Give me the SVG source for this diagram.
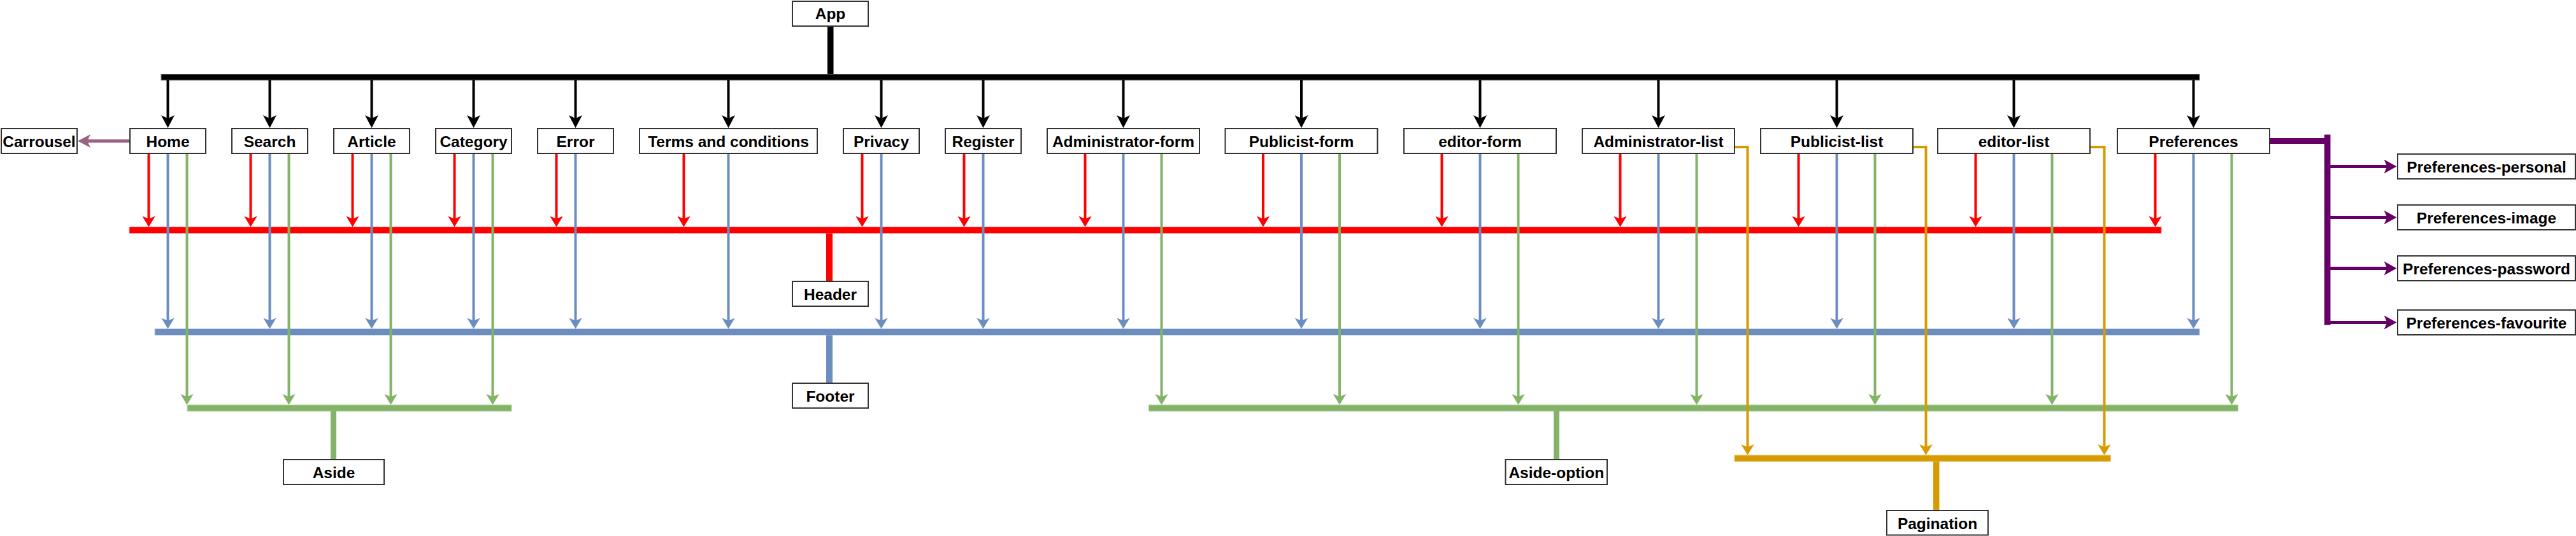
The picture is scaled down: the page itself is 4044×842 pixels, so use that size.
<svg xmlns="http://www.w3.org/2000/svg" width="4044" height="842" viewBox="0 0 4044 842">
<style>
  .box { fill: #ffffff; stroke: #333333; stroke-width: 2; }
  .lbl { font-family: "Liberation Sans", Arial, Helvetica, sans-serif; font-weight: bold; font-size: 24.5px; fill: #000000; text-anchor: middle; }
  .ln { fill: none; stroke-width: 4; }
  .k { stroke: #000000; }
  .r { stroke: #FF0000; }
  .b { stroke: #6C8EBF; }
  .g { stroke: #82B366; }
  .o { stroke: #D79B00; }
  .p { stroke: #660066; stroke-width: 5; }
  .m { stroke: #996185; stroke-width: 5; }
</style>
<defs>
  <marker id="aK" markerUnits="userSpaceOnUse" markerWidth="20" markerHeight="21" viewBox="0 0 20 21" refX="10" refY="10.5" orient="auto"><path d="M0,0 L20,10.5 L0,21 L5,10.5 Z" fill="#000000"/></marker>
  <marker id="aR" markerUnits="userSpaceOnUse" markerWidth="17" markerHeight="20.5" viewBox="0 0 17 20.5" refX="8" refY="10.25" orient="auto"><path d="M0,0 L17,10.25 L0,20.5 L4.25,10.25 Z" fill="#FF0000"/></marker>
  <marker id="aB" markerUnits="userSpaceOnUse" markerWidth="17" markerHeight="20.5" viewBox="0 0 17 20.5" refX="8" refY="10.25" orient="auto"><path d="M0,0 L17,10.25 L0,20.5 L4.25,10.25 Z" fill="#6C8EBF"/></marker>
  <marker id="aG" markerUnits="userSpaceOnUse" markerWidth="17" markerHeight="20.5" viewBox="0 0 17 20.5" refX="8" refY="10.25" orient="auto"><path d="M0,0 L17,10.25 L0,20.5 L4.25,10.25 Z" fill="#82B366"/></marker>
  <marker id="aO" markerUnits="userSpaceOnUse" markerWidth="17" markerHeight="20.5" viewBox="0 0 17 20.5" refX="8" refY="10.25" orient="auto"><path d="M0,0 L17,10.25 L0,20.5 L4.25,10.25 Z" fill="#D79B00"/></marker>
  <marker id="aP" markerUnits="userSpaceOnUse" markerWidth="20" markerHeight="22" viewBox="0 0 20 22" refX="10" refY="11" orient="auto"><path d="M0,0 L20,11 L0,22 L5,11 Z" fill="#660066"/></marker>
  <marker id="aM" markerUnits="userSpaceOnUse" markerWidth="20" markerHeight="21" viewBox="0 0 20 21" refX="10" refY="10.5" orient="auto"><path d="M0,0 L20,10.5 L0,21 L5,10.5 Z" fill="#996185"/></marker>
</defs>
<rect x="0" y="0" width="4044" height="842" fill="#ffffff"/>

<g id="buses">
  <rect x="1299" y="42" width="9.5" height="75" fill="#000000"/>
  <rect x="253" y="116.5" width="3200" height="9.5" fill="#000000" stroke="#777777" stroke-width="1"/>
  <rect x="203" y="356.5" width="3190" height="10" fill="#FF0000" stroke="#FF8080" stroke-width="1"/>
  <rect x="1297" y="366.5" width="10" height="75" fill="#FF0000"/>
  <rect x="243" y="516.5" width="3210" height="10" fill="#6C8EBF" stroke="#B5C7E0" stroke-width="1"/>
  <rect x="1297" y="526.5" width="10" height="75" fill="#6C8EBF"/>
  <rect x="294" y="636" width="509" height="10" fill="#82B366" stroke="#B9D6A8" stroke-width="1"/>
  <rect x="519" y="646" width="9" height="75" fill="#82B366"/>
  <rect x="1803.5" y="636" width="1710" height="10" fill="#82B366" stroke="#B9D6A8" stroke-width="1"/>
  <rect x="2439" y="646" width="9" height="75" fill="#82B366"/>
  <rect x="2723" y="715" width="590.5" height="10" fill="#D79B00" stroke="#EBCB80" stroke-width="1"/>
  <rect x="3035" y="725" width="9.5" height="76" fill="#D79B00"/>
  <rect x="3564" y="217" width="90" height="9" fill="#660066"/>
  <rect x="3649" y="211.5" width="9.5" height="299" fill="#660066"/>
</g>

<g id="connectors">
  <path class="ln k" marker-end="url(#aK)" d="M263.5,126 V191"/>
  <path class="ln k" marker-end="url(#aK)" d="M423.5,126 V191"/>
  <path class="ln k" marker-end="url(#aK)" d="M583.5,126 V191"/>
  <path class="ln k" marker-end="url(#aK)" d="M743.5,126 V191"/>
  <path class="ln k" marker-end="url(#aK)" d="M903.5,126 V191"/>
  <path class="ln k" marker-end="url(#aK)" d="M1143.5,126 V191"/>
  <path class="ln k" marker-end="url(#aK)" d="M1383.5,126 V191"/>
  <path class="ln k" marker-end="url(#aK)" d="M1543.5,126 V191"/>
  <path class="ln k" marker-end="url(#aK)" d="M1763.5,126 V191"/>
  <path class="ln k" marker-end="url(#aK)" d="M2043,126 V191"/>
  <path class="ln k" marker-end="url(#aK)" d="M2323.5,126 V191"/>
  <path class="ln k" marker-end="url(#aK)" d="M2603.5,126 V191"/>
  <path class="ln k" marker-end="url(#aK)" d="M2883.5,126 V191"/>
  <path class="ln k" marker-end="url(#aK)" d="M3161.5,126 V191"/>
  <path class="ln k" marker-end="url(#aK)" d="M3443.5,126 V191"/>

  <path class="ln m" marker-end="url(#aM)" d="M203,221.5 H132"/>

  <path class="ln r" marker-end="url(#aR)" d="M233.5,242 V347.5"/>
  <path class="ln r" marker-end="url(#aR)" d="M393.5,242 V347.5"/>
  <path class="ln r" marker-end="url(#aR)" d="M553.5,242 V347.5"/>
  <path class="ln r" marker-end="url(#aR)" d="M713.5,242 V347.5"/>
  <path class="ln r" marker-end="url(#aR)" d="M873.5,242 V347.5"/>
  <path class="ln r" marker-end="url(#aR)" d="M1073.5,242 V347.5"/>
  <path class="ln r" marker-end="url(#aR)" d="M1353.5,242 V347.5"/>
  <path class="ln r" marker-end="url(#aR)" d="M1513.5,242 V347.5"/>
  <path class="ln r" marker-end="url(#aR)" d="M1703.5,242 V347.5"/>
  <path class="ln r" marker-end="url(#aR)" d="M1983,242 V347.5"/>
  <path class="ln r" marker-end="url(#aR)" d="M2263.5,242 V347.5"/>
  <path class="ln r" marker-end="url(#aR)" d="M2543.5,242 V347.5"/>
  <path class="ln r" marker-end="url(#aR)" d="M2823.5,242 V347.5"/>
  <path class="ln r" marker-end="url(#aR)" d="M3101.5,242 V347.5"/>
  <path class="ln r" marker-end="url(#aR)" d="M3383.5,242 V347.5"/>

  <path class="ln b" marker-end="url(#aB)" d="M263.5,242 V507.5"/>
  <path class="ln b" marker-end="url(#aB)" d="M423.5,242 V507.5"/>
  <path class="ln b" marker-end="url(#aB)" d="M583.5,242 V507.5"/>
  <path class="ln b" marker-end="url(#aB)" d="M743.5,242 V507.5"/>
  <path class="ln b" marker-end="url(#aB)" d="M903.5,242 V507.5"/>
  <path class="ln b" marker-end="url(#aB)" d="M1143.5,242 V507.5"/>
  <path class="ln b" marker-end="url(#aB)" d="M1383.5,242 V507.5"/>
  <path class="ln b" marker-end="url(#aB)" d="M1543.5,242 V507.5"/>
  <path class="ln b" marker-end="url(#aB)" d="M1763.5,242 V507.5"/>
  <path class="ln b" marker-end="url(#aB)" d="M2043,242 V507.5"/>
  <path class="ln b" marker-end="url(#aB)" d="M2323.5,242 V507.5"/>
  <path class="ln b" marker-end="url(#aB)" d="M2603.5,242 V507.5"/>
  <path class="ln b" marker-end="url(#aB)" d="M2883.5,242 V507.5"/>
  <path class="ln b" marker-end="url(#aB)" d="M3161.5,242 V507.5"/>
  <path class="ln b" marker-end="url(#aB)" d="M3443.5,242 V507.5"/>

  <path class="ln g" marker-end="url(#aG)" d="M293.5,242 V627"/>
  <path class="ln g" marker-end="url(#aG)" d="M453.5,242 V627"/>
  <path class="ln g" marker-end="url(#aG)" d="M613.5,242 V627"/>
  <path class="ln g" marker-end="url(#aG)" d="M773.5,242 V627"/>

  <path class="ln g" marker-end="url(#aG)" d="M1823.5,242 V627"/>
  <path class="ln g" marker-end="url(#aG)" d="M2103,242 V627"/>
  <path class="ln g" marker-end="url(#aG)" d="M2383.5,242 V627"/>
  <path class="ln g" marker-end="url(#aG)" d="M2663.5,242 V627"/>
  <path class="ln g" marker-end="url(#aG)" d="M2943.5,242 V627"/>
  <path class="ln g" marker-end="url(#aG)" d="M3221.5,242 V627"/>
  <path class="ln g" marker-end="url(#aG)" d="M3503.5,242 V627"/>

  <path class="ln o" marker-end="url(#aO)" d="M2724,231 H2743.5 V706"/>
  <path class="ln o" marker-end="url(#aO)" d="M3004,231 H3023.5 V706"/>
  <path class="ln o" marker-end="url(#aO)" d="M3282,231 H3303.5 V706"/>

  <path class="ln p" marker-end="url(#aP)" d="M3658,261.5 H3752.5"/>
  <path class="ln p" marker-end="url(#aP)" d="M3658,341.5 H3752.5"/>
  <path class="ln p" marker-end="url(#aP)" d="M3658,421.5 H3752.5"/>
  <path class="ln p" marker-end="url(#aP)" d="M3658,506.5 H3752.5"/>
</g>

<g id="node-app"><rect class="box" x="1244" y="2" width="119" height="39"/><text class="lbl" x="1303.5" y="30">App</text></g>
<g id="node-carrousel"><rect class="box" x="2" y="202" width="119" height="39"/><text class="lbl" x="61.5" y="230.5">Carrousel</text></g>
<g id="node-home"><rect class="box" x="204" y="202" width="119" height="39"/><text class="lbl" x="263.5" y="230.5">Home</text></g>
<g id="node-search"><rect class="box" x="364" y="202" width="119" height="39"/><text class="lbl" x="423.5" y="230.5">Search</text></g>
<g id="node-article"><rect class="box" x="524" y="202" width="119" height="39"/><text class="lbl" x="583.5" y="230.5">Article</text></g>
<g id="node-category"><rect class="box" x="684" y="202" width="119" height="39"/><text class="lbl" x="743.5" y="230.5">Category</text></g>
<g id="node-error"><rect class="box" x="844" y="202" width="119" height="39"/><text class="lbl" x="903.5" y="230.5">Error</text></g>
<g id="node-terms"><rect class="box" x="1004" y="202" width="279" height="39"/><text class="lbl" x="1143.5" y="230.5">Terms and conditions</text></g>
<g id="node-privacy"><rect class="box" x="1324" y="202" width="119" height="39"/><text class="lbl" x="1383.5" y="230.5">Privacy</text></g>
<g id="node-register"><rect class="box" x="1484" y="202" width="119" height="39"/><text class="lbl" x="1543.5" y="230.5">Register</text></g>
<g id="node-administrator-form"><rect class="box" x="1644" y="202" width="239" height="39"/><text class="lbl" x="1763.5" y="230.5">Administrator-form</text></g>
<g id="node-publicist-form"><rect class="box" x="1923.5" y="202" width="239" height="39"/><text class="lbl" x="2043" y="230.5">Publicist-form</text></g>
<g id="node-editor-form"><rect class="box" x="2204" y="202" width="239" height="39"/><text class="lbl" x="2323.5" y="230.5">editor-form</text></g>
<g id="node-administrator-list"><rect class="box" x="2484" y="202" width="239" height="39"/><text class="lbl" x="2603.5" y="230.5">Administrator-list</text></g>
<g id="node-publicist-list"><rect class="box" x="2764" y="202" width="239" height="39"/><text class="lbl" x="2883.5" y="230.5">Publicist-list</text></g>
<g id="node-editor-list"><rect class="box" x="3042" y="202" width="239" height="39"/><text class="lbl" x="3161.5" y="230.5">editor-list</text></g>
<g id="node-preferences"><rect class="box" x="3324" y="202" width="239" height="39"/><text class="lbl" x="3443.5" y="230.5">Preferences</text></g>
<g id="node-header"><rect class="box" x="1244" y="442" width="119" height="39"/><text class="lbl" x="1303.5" y="470.5">Header</text></g>
<g id="node-footer"><rect class="box" x="1244" y="602" width="119" height="39"/><text class="lbl" x="1303.5" y="630.5">Footer</text></g>
<g id="node-aside"><rect class="box" x="445" y="722" width="158" height="39"/><text class="lbl" x="524" y="750.5">Aside</text></g>
<g id="node-aside-option"><rect class="box" x="2363.5" y="722" width="159.5" height="39"/><text class="lbl" x="2443.25" y="750.5">Aside-option</text></g>
<g id="node-pagination"><rect class="box" x="2962" y="802" width="159" height="38.5"/><text class="lbl" x="3041.5" y="830.5">Pagination</text></g>
<g id="node-preferences-personal"><rect class="box" x="3764" y="242" width="279" height="39"/><text class="lbl" x="3903.5" y="270.5">Preferences-personal</text></g>
<g id="node-preferences-image"><rect class="box" x="3764" y="322" width="279" height="39"/><text class="lbl" x="3903.5" y="350.5">Preferences-image</text></g>
<g id="node-preferences-password"><rect class="box" x="3764" y="402" width="279" height="39"/><text class="lbl" x="3903.5" y="430.5">Preferences-password</text></g>
<g id="node-preferences-favourite"><rect class="box" x="3764" y="487" width="279" height="39"/><text class="lbl" x="3903.5" y="515.5">Preferences-favourite</text></g>
</svg>
